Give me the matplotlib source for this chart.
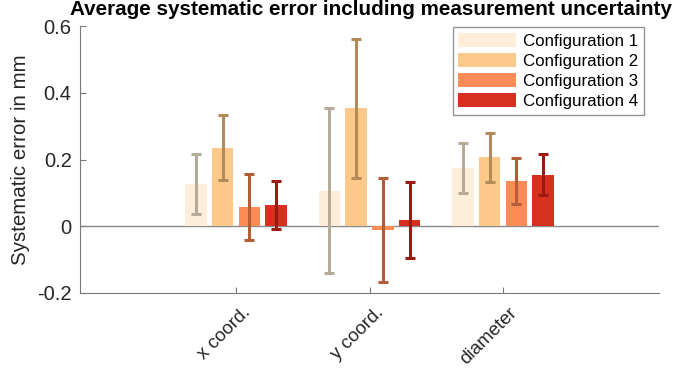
import matplotlib.pyplot as plt
import matplotlib.transforms as mtransforms
import numpy as np

plt.rcParams["font.family"] = ["Liberation Sans", "DejaVu Sans"]

################## Dados ##################

categorias = ["x coord.", "y coord.", "diameter"]
configuracoes = ["Configuration 1", "Configuration 2", "Configuration 3", "Configuration 4"]

# erro sistematico medio (mm), uma lista por configuracao
config1 = [0.127, 0.107, 0.174]
config2 = [0.235, 0.353, 0.207]
config3 = [0.058, -0.010, 0.136]
config4 = [0.063, 0.019, 0.155]

# incerteza de medicao (+/-)
incerteza1 = [0.090, 0.247, 0.074]
incerteza2 = [0.097, 0.208, 0.073]
incerteza3 = [0.098, 0.156, 0.068]
incerteza4 = [0.072, 0.115, 0.060]

valores = [config1, config2, config3, config4]
incertezas = [incerteza1, incerteza2, incerteza3, incerteza4]

cores_barra = ["#FDEDD9", "#FDC98B", "#FC8B55", "#D8301F"]
cores_erro = ["#B6AA98", "#B38B5B", "#B45E38", "#9A1A12"]

################## Grafico ##################

fig = plt.figure(figsize=(6.86, 3.69), dpi=100)
ax = fig.add_axes([80 / 686, 1 - 293 / 369, (659 - 80) / 686, (293 - 26) / 369])

x = np.arange(1, len(categorias) + 1)
largura = 0.16
deslocamentos = [-0.3, -0.1, 0.1, 0.3]

for i in range(len(configuracoes)):
    ax.bar(x + deslocamentos[i], valores[i], width=largura, color=cores_barra[i],
           label=configuracoes[i], zorder=2)
    ax.errorbar(x + deslocamentos[i], valores[i], yerr=incertezas[i], fmt="none",
                ecolor=cores_erro[i], elinewidth=2.2, capsize=3.8, capthick=2.2, zorder=3)

ax.axhline(0, color="#8a8a8a", linewidth=1, zorder=1)

ax.set_xlim(-0.17, 4.17)
ax.set_ylim(-0.2, 0.6)
ax.set_yticks([-0.2, 0, 0.2, 0.4, 0.6])
ax.set_yticklabels(["-0.2", "0", "0.2", "0.4", "0.6"])
ax.set_xticks(x)
ax.set_xticklabels(categorias, rotation=45, ha="right", rotation_mode="anchor")

for lado in ["top", "right"]:
    ax.spines[lado].set_visible(False)
for lado in ["left", "bottom"]:
    ax.spines[lado].set_color("#7a7a7a")
ax.tick_params(axis="both", labelsize=14.5, colors="#7a7a7a", labelcolor="#262626",
               length=4, direction="in")
ax.tick_params(axis="x", labelsize=13.5, pad=8)
ax.tick_params(axis="y", pad=6)

# desloca os rotulos do eixo x um pouco para a direita
desloc = mtransforms.ScaledTranslation(6 / 100, 0, fig.dpi_scale_trans)
for rotulo in ax.get_xticklabels():
    rotulo.set_transform(rotulo.get_transform() + desloc)

ax.set_ylabel("Systematic error in mm", fontsize=14.8, color="#262626")
ax.yaxis.set_label_coords(-50 / 579, 0.5)
fig.text(371 / 686, 1.0, "Average systematic error including measurement uncertainty",
         ha="center", va="top", fontsize=14.9, fontweight="bold")

leg = ax.legend(loc="upper right", bbox_to_anchor=(644 / 686, 1 - 27 / 369),
                bbox_transform=fig.transFigure, fontsize=12.2, frameon=True,
                fancybox=False, handlelength=3.4, handleheight=0.9,
                labelspacing=0.25, borderpad=0.35, handletextpad=0.4,
                borderaxespad=0)
leg.get_frame().set_edgecolor("#7a7a7a")
leg.get_frame().set_linewidth(1)

fig.savefig("out.png", dpi=100)
